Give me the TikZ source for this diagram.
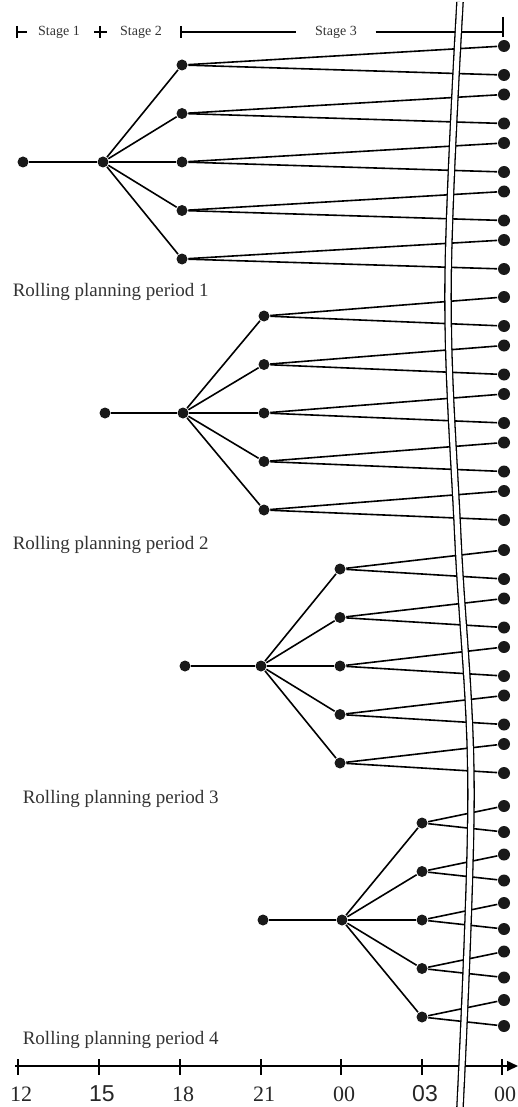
\documentclass[tikz,border=0pt]{standalone}
\usepackage{fontspec}
\setmainfont{Liberation Serif}
\newfontfamily\axsans{Liberation Sans}
\usetikzlibrary{arrows.meta}

\begin{document}
\begin{tikzpicture}[x=1pt,y=-1pt,line width=1.6pt,
  dot/.style={circle,fill=black!90,inner sep=0pt,minimum size=11pt},
  leaf/.style={dot,minimum size=12pt},
  lbl/.style={font=\fontsize{19}{22}\selectfont,anchor=west,inner sep=0pt,text=black!80},
  stg/.style={font=\fontsize{14}{16}\selectfont,inner sep=0pt,text=black!80},
  tck/.style={font=\fontsize{22}{24}\selectfont,inner sep=0pt,text=black!85}]
\useasboundingbox (0,0) rectangle (517,1107);

% stages
\node[stg] (st1) at (59,32) {Stage 1};
\node[stg] (st2) at (141,32) {Stage 2};
\node[stg] (st3) at (336,32) {Stage 3};
\draw (17,26) -- (17,38) (17,32) -- (27,32);
\draw (100,26) -- (100,38) (94,32) -- (107,32);
\draw (181,26) -- (181,38);
\draw (181,32) -- ([xshift=-18pt]st3.west);
\draw ([xshift=18pt]st3.east) -- (503,32);
\draw (503,17) -- (503,37);

% trees
\foreach \p/\rx/\sx/\cx/\cy/\du/\dd in %
{1/23/103/182/162/19/10,2/105/183/264/413/19/10,3/185/261/340/666/19/10,4/263/342/422/920/17/9} {
   \node[dot] (r\p) at (\rx,\cy) {};
   \node[dot] (s\p) at (\sx,\cy) {};
   \draw (r\p) -- (s\p);
   \foreach \k/\o in {1/-97,2/-48.5,3/0,4/48.5,5/97} {
      \node[dot] (c\p-\k) at (\cx,\cy+\o) {};
      \node[leaf] (u\p-\k) at (504,\cy+\o-\du) {};
      \node[leaf] (d\p-\k) at (504,\cy+\o+\dd) {};
      \draw (s\p) -- (c\p-\k);
      \draw (c\p-\k) -- (u\p-\k);
      \draw (c\p-\k) -- (d\p-\k);
   }
}

\node[lbl] (per1) at (12,292) {Rolling planning period 1};
\node[lbl] (per2) at (12,545) {Rolling planning period 2};
\node[lbl] (per3) at (22,799) {Rolling planning period 3};
\node[lbl] (per4) at (22,1040) {Rolling planning period 4};

% time axis
\coordinate (ax0) at (15,1066);
\coordinate (ax1) at (518,1066);
\draw[-{Triangle[length=11pt,width=10pt]}] (ax0) -- (ax1);
\foreach \x/\1 [count=\i] in %
{18/12,99/{\axsans\fontsize{23}{24}\selectfont 15},180/18,261/21,341/00,422/{\axsans\fontsize{23}{24}\selectfont 03},502/00} {
   \draw (\x,1059) -- (\x,1075);
   \node[tck] (t\i) at (\x+3,1094) {\1};
}

% break
\draw[line width=1.3pt,double=white,double distance=5pt] plot[smooth,tension=0.6]
   coordinates {(460,2) (448,290) (458,540) (471,790) (460,1107)};
\end{tikzpicture}
\end{document}
